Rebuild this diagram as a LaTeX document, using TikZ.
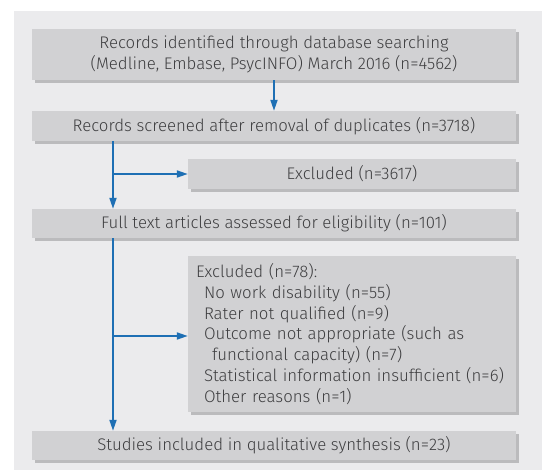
\documentclass[tikz,border=0pt]{standalone}
\usepackage{fontspec}
\setmainfont{Fira Sans Light}
\usetikzlibrary{arrows.meta,shadows}
\definecolor{panel}{HTML}{EBEBED}
\definecolor{boxfill}{HTML}{D1D1D3}
\definecolor{shade}{HTML}{BBBBBD}
\definecolor{txt}{HTML}{3E3E40}
\definecolor{flow}{HTML}{1E6FB4}
\tikzset{
  stagebox/.style={draw=none, fill=boxfill, text=txt, inner sep=0pt,
    font=\fontsize{16.8}{20.8}\selectfont, align=center,
    drop shadow={shadow xshift=3pt, shadow yshift=-3pt, fill=shade, opacity=1}},
  flowline/.style={draw=flow, line width=1.8pt},
  flowarrow/.style={flowline, -{Triangle[length=11pt,width=7pt]}}
}
\begin{document}
\begin{tikzpicture}[x=1pt,y=-1pt]
\useasboundingbox (0,0) rectangle (542,470);
\fill[panel] (14,11) rectangle (542,470);
\node[stagebox, minimum width=484pt, minimum height=51pt] (rec) at (274,54.5)
  {Records identified through database searching\\(Medline, Embase, PsycINFO) March 2016 (n=4562)};
\node[stagebox, minimum width=484pt, minimum height=30pt] (scr) at (274,126)
  {Records screened after removal of duplicates (n=3718)};
\node[stagebox, minimum width=328pt, minimum height=30pt] (ex1) at (352,174)
  {Excluded (n=3617)};
\node[stagebox, minimum width=484pt, minimum height=29pt] (full) at (274,223.5)
  {Full text articles assessed for eligibility (n=101)};
\node[stagebox, minimum width=328pt, minimum height=156pt, align=left, text width=324pt] (ex2) at (352,334)
  {\hspace*{6pt}Excluded (n=78):\\
   \hspace*{14pt}No work disability (n=55)\\
   \hspace*{14pt}Rater not qualified (n=9)\\
   \hspace*{14pt}Outcome not appropriate (such as\\
   \hspace*{22pt}functional capacity) (n=7)\\
   \hspace*{14pt}Statistical information insufficient (n=6)\\
   \hspace*{14pt}Other reasons (n=1)};
\node[stagebox, minimum width=484pt, minimum height=29pt] (inc) at (274,445.5)
  {Studies included in qualitative synthesis (n=23)};
\draw[flowarrow] (rec.south) -- (scr.north);
\coordinate (b1) at (113,174);
\coordinate (b2) at (113,336);
\draw[flowarrow] (scr.south -| b1) -- (full.north -| b1);
\draw[flowarrow] (b1) -- (ex1.west);
\draw[flowarrow] (full.south -| b2) -- (inc.north -| b2);
\draw[flowarrow] (b2) -- (b2 -| ex2.west);
\end{tikzpicture}
\end{document}
